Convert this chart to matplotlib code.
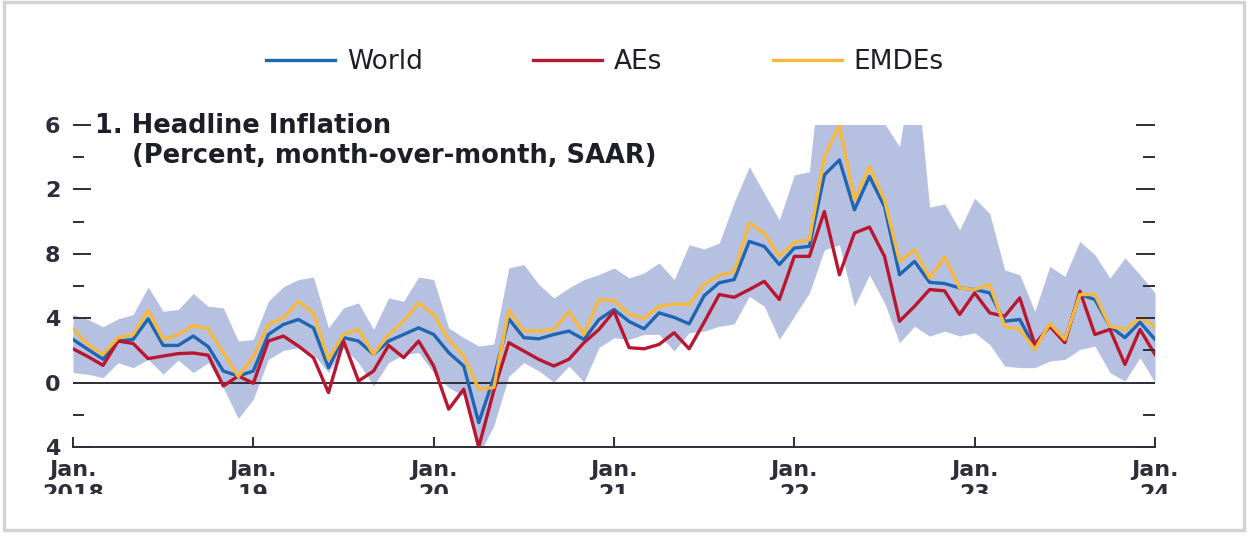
import numpy as np
import matplotlib
matplotlib.use('Agg')
import matplotlib.pyplot as plt
from matplotlib.patches import Rectangle
from matplotlib.lines import Line2D

# Colors
BLUE = '#1f65b0'
RED = '#b8172f'
YELLOW = '#f6b93b'
SHADE = '#b6c1e2'
INK = '#2e2e3a'

# Monthly data, Jan. 2018 - Jan. 2024 (percent, m/m SAAR)
world = [2.68, 2.06, 1.45, 2.58, 2.68, 3.96, 2.31, 2.31, 2.89, 2.23, 0.72, 0.41,
         0.72, 2.99, 3.61, 3.92, 3.40, 0.93, 2.79, 2.58, 1.75, 2.58, 2.99, 3.40,
         2.99, 1.86, 1.03, -2.48, 0.30, 3.96, 2.79, 2.72, 2.99, 3.20, 2.68, 3.92,
         4.54, 3.80, 3.34, 4.33, 4.05, 3.65, 5.40, 6.20, 6.40, 8.77, 8.46, 7.33,
         8.36, 8.46, 12.90, 13.83, 10.73, 12.80, 10.93, 6.70, 7.53, 6.23, 6.15, 5.88,
         5.78, 5.57, 3.81, 3.92, 2.17, 3.61, 2.68, 5.47, 5.16, 3.50, 2.79, 3.75,
         2.68]
aes = [2.10, 1.61, 1.07, 2.58, 2.43, 1.49, 1.65, 1.80, 1.84, 1.70, -0.21, 0.41,
       -0.04, 2.58, 2.89, 2.27, 1.55, -0.62, 2.58, 0.10, 0.72, 2.31, 1.55, 2.58,
       1.03, -1.65, -0.41, -4.00, -0.50, 2.48, 1.96, 1.44, 1.03, 1.45, 2.48, 3.30,
       4.43, 2.17, 2.10, 2.37, 3.10, 2.10, 3.75, 5.47, 5.30, 5.78, 6.29, 5.16,
       7.84, 7.84, 10.63, 6.70, 9.29, 9.66, 7.84, 3.81, 4.74, 5.78, 5.70, 4.23,
       5.57, 4.33, 4.12, 5.26, 2.37, 3.50, 2.48, 5.68, 2.99, 3.30, 1.13, 3.30,
       1.75]
emdes = [3.34, 2.37, 1.75, 2.79, 2.99, 4.50, 2.68, 2.99, 3.55, 3.34, 1.86, 0.37,
         1.61, 3.61, 4.02, 5.05, 4.33, 1.44, 2.99, 3.30, 1.75, 2.99, 3.81, 4.95,
         4.23, 2.68, 1.65, -0.41, -0.31, 4.50, 3.20, 3.20, 3.30, 4.43, 2.99, 5.16,
         5.10, 4.25, 4.00, 4.74, 4.88, 4.85, 6.10, 6.65, 6.90, 9.91, 9.29, 7.84,
         8.71, 8.87, 14.03, 16.00, 11.35, 13.41, 11.35, 7.53, 8.25, 6.50, 7.80, 5.88,
         5.78, 6.09, 3.50, 3.30, 2.06, 3.67, 2.68, 5.47, 5.47, 3.50, 3.30, 4.02,
         3.50]
# Range across economies (shaded area)
range_hi = [4.23, 3.92, 3.47, 3.96, 4.23, 5.94, 4.43, 4.54, 5.53, 4.74, 4.64, 2.58,
            2.68, 5.05, 5.95, 6.40, 6.56, 3.40, 4.64, 4.95, 3.30, 5.26, 5.05, 6.56,
            6.40, 3.40, 2.79, 2.27, 2.40, 7.12, 7.33, 6.09, 5.26, 5.88, 6.40, 6.71,
            7.12, 6.50, 6.81, 7.43, 6.40, 8.56, 8.30, 8.67, 11.20, 13.41, 11.75, 10.10,
            12.90, 13.10, 22.00, 22.00, 22.00, 22.00, 16.10, 14.65, 20.50, 10.90, 11.10, 9.49,
            11.45, 10.50, 7.00, 6.70, 4.43, 7.22, 6.60, 8.77, 7.94, 6.50, 7.74, 6.70,
            5.57]
range_lo = [0.62, 0.52, 0.31, 1.24, 0.93, 1.44, 0.52, 1.40, 0.62, 1.24, -0.31, -2.23,
            -1.03, 1.44, 2.00, 2.17, 1.75, 0.62, 2.17, 1.24, -0.21, 1.24, 1.75, 1.86,
            0.62, -0.31, -0.83, -4.50, -2.68, 0.40, 1.24, 0.72, 0.04, 1.03, 0.04, 2.17,
            2.79, 2.68, 2.99, 3.00, 1.96, 3.10, 3.20, 3.50, 3.65, 5.36, 4.74, 2.68,
            4.12, 5.57, 8.25, 8.56, 4.74, 6.69, 4.95, 2.48, 3.50, 2.89, 3.20, 2.89,
            3.10, 2.37, 1.03, 0.93, 0.93, 1.34, 1.44, 2.06, 2.27, 0.62, 0.10, 1.55,
            0.00]

months = np.arange(len(world))
xtick_pos = [0, 12, 24, 36, 48, 60, 72]
xtick_labels = ['Jan.\n2018', 'Jan.\n19', 'Jan.\n20', 'Jan.\n21', 'Jan.\n22', 'Jan.\n23', 'Jan.\n24']
ytick_pos = [-4, 0, 4, 8, 12, 16]
ytick_labels = ['4', '0', '4', '8', '2', '6']   # left edge of the original is cut off

fig = plt.figure(figsize=(12.48, 5.36), dpi=100)
fig.patch.set_facecolor('white')
ax = fig.add_axes([73 / 1248, 89 / 536, (1155 - 73) / 1248, (447 - 125) / 536])

ax.fill_between(months, range_lo, range_hi, color=SHADE, linewidth=0, zorder=1)
ax.axhline(0, color=INK, lw=1.4, zorder=2)
ax.plot(months, world, color=BLUE, lw=2.4, zorder=3)
ax.plot(months, aes, color=RED, lw=2.4, zorder=3)
ax.plot(months, emdes, color=YELLOW, lw=2.4, zorder=3)

ax.set_xlim(0, 72)
ax.set_ylim(-4, 16)
for s in ['left', 'right', 'top']:
    ax.spines[s].set_visible(False)
ax.spines['bottom'].set_color(INK)
ax.spines['bottom'].set_linewidth(1.4)

ax.set_xticks(xtick_pos)
ax.set_xticklabels(xtick_labels, fontsize=16, fontweight='bold', color=INK,
                   linespacing=1.25, va='top')
ax.tick_params(axis='x', direction='in', length=7, width=1.4, color=INK, pad=9)

ax.set_yticks(ytick_pos)
ax.set_yticklabels(ytick_labels, fontsize=16, fontweight='bold', color=INK)
ax.set_yticks([14, 10, 6, -2], minor=True)
ax.tick_params(axis='y', which='major', direction='in', length=13, width=1.4,
               color=INK, pad=9)
ax.tick_params(axis='y', which='minor', direction='in', length=8, width=1.4, color=INK)

# right-hand ticks (every 2 units)
ax2 = ax.twinx()
ax2.set_ylim(-4, 16)
for s in ax2.spines.values():
    s.set_visible(False)
ax2.set_yticks([-4, 0, 4, 8, 12, 16])
ax2.set_yticks([-2, 2, 6, 10, 14], minor=True)
ax2.set_yticklabels([])
ax2.tick_params(axis='y', which='major', direction='in', length=14, width=1.4, color=INK)
ax2.tick_params(axis='y', which='minor', direction='in', length=9, width=1.4, color=INK)

# panel title
fig.text(95 / 1248, 1 - 126 / 536, '1. Headline Inflation', fontsize=18.5,
         fontweight='bold', color='#1e1e28', va='center', ha='left')
fig.text(132 / 1248, 1 - 156 / 536, '(Percent, month-over-month, SAAR)', fontsize=18.5,
         fontweight='bold', color='#1e1e28', va='center', ha='left')

# legend
handles = [Line2D([], [], color=BLUE, lw=2.4),
           Line2D([], [], color=RED, lw=2.4),
           Line2D([], [], color=YELLOW, lw=2.4)]
fig.legend(handles, ['World', 'AEs', 'EMDEs'], loc='center', ncol=3,
           bbox_to_anchor=(605 / 1248, 1 - 62 / 536), frameon=False,
           prop={'size': 19}, labelcolor='#1e1e28', handlelength=2.6,
           handletextpad=0.45, columnspacing=4.2)

# the source image is cropped below the tick labels, then framed
fig.add_artist(Rectangle((0.006, 10 / 536), 0.988, 32 / 536, transform=fig.transFigure,
                         facecolor='white', edgecolor='none', zorder=10))
fig.add_artist(Rectangle((0.003, 0.012), 0.994, 0.984, transform=fig.transFigure,
                         facecolor='none', edgecolor='#d2d2d2', lw=2.5, zorder=11))

fig.savefig('out.png', dpi=100)
